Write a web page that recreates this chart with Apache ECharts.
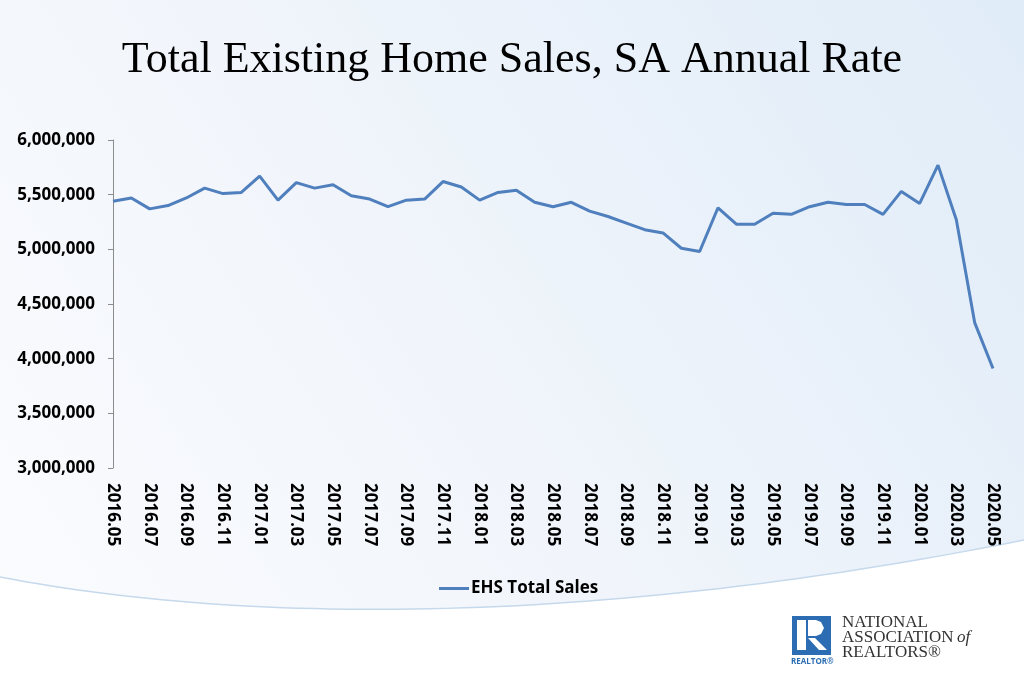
<!DOCTYPE html>
<html>
<head>
<meta charset="utf-8">
<script src="https://cdn.jsdelivr.net/npm/echarts@6/dist/echarts.min.js"></script>
<style>
html,body{margin:0;padding:0;width:1024px;height:692px;overflow:hidden;background:#fff;}
#chart{width:1024px;height:692px;}
</style>
</head>
<body>
<div id="chart"></div>
<script>
var titleText = 'Total Existing Home Sales, SA Annual Rate';
var seriesName = 'EHS Total Sales';
var months = [
  '2016.05','2016.06','2016.07','2016.08','2016.09','2016.10','2016.11','2016.12',
  '2017.01','2017.02','2017.03','2017.04','2017.05','2017.06','2017.07','2017.08','2017.09','2017.10','2017.11','2017.12',
  '2018.01','2018.02','2018.03','2018.04','2018.05','2018.06','2018.07','2018.08','2018.09','2018.10','2018.11','2018.12',
  '2019.01','2019.02','2019.03','2019.04','2019.05','2019.06','2019.07','2019.08','2019.09','2019.10','2019.11','2019.12',
  '2020.01','2020.02','2020.03','2020.04','2020.05'
];
var sales = [
  5440000,5470000,5370000,5400000,5470000,5560000,5510000,5520000,
  5670000,5450000,5610000,5560000,5590000,5490000,5460000,5390000,5450000,5460000,5620000,5570000,
  5450000,5520000,5540000,5430000,5390000,5430000,5350000,5300000,5240000,5180000,5150000,5010000,
  4980000,5380000,5230000,5230000,5330000,5320000,5390000,5430000,5410000,5410000,5320000,5530000,
  5420000,5770000,5270000,4330000,3910000
];
var yMin = 3000000, yMax = 6000000, yStep = 500000;
var logoLines = ['NATIONAL', 'ASSOCIATION', 'REALTORS®'];

// decorative swoosh at the bottom of the slide (cubic bezier)
function swoosh() {
  var p0 = [0, 577], p1 = [250, 625], p2 = [600, 625], p3 = [1024, 540];
  var pts = [];
  for (var i = 0; i <= 60; i++) {
    var t = i / 60, u = 1 - t;
    pts.push([
      u*u*u*p0[0] + 3*u*u*t*p1[0] + 3*u*t*t*p2[0] + t*t*t*p3[0],
      u*u*u*p0[1] + 3*u*u*t*p1[1] + 3*u*t*t*p2[1] + t*t*t*p3[1]
    ]);
  }
  return pts;
}
var curve = swoosh();
var whiteArea = curve.concat([[1024, 692], [0, 692]]);

var chart = echarts.init(document.getElementById('chart'));
var labelFont = '"Open Sans", "Liberation Sans", sans-serif';
var serif = '"Liberation Serif", "DejaVu Serif", serif';
var option = {
  animation: false,
  title: {
    text: titleText,
    left: 'center',
    top: 33,
    textStyle: {fontFamily: serif, fontSize: 44, fontWeight: 'normal', color: '#000'}
  },
  grid: {left: 113, right: 31, top: 140, bottom: 224, containLabel: false},
  legend: {
    data: [{name: seriesName, icon: 'rect'}],
    left: 434, top: 575,
    itemWidth: 30, itemHeight: 3, itemGap: 10,
    textStyle: {fontFamily: labelFont, fontSize: 17, fontWeight: 'bold', color: '#000', padding: [0,0,0,-3]}
  },
  xAxis: {
    type: 'category',
    data: months,
    boundaryGap: false,
    axisLine: {show: false},
    axisTick: {show: false},
    splitLine: {show: false},
    axisLabel: {
      interval: 1, rotate: -90, margin: 15,
      fontFamily: labelFont, fontSize: 17, fontWeight: 'bold', color: '#000'
    }
  },
  yAxis: {
    type: 'value',
    min: yMin, max: yMax, interval: yStep,
    axisLine: {show: true, lineStyle: {color: '#8c8c8c', width: 1}},
    axisTick: {show: true, length: 5, lineStyle: {color: '#8c8c8c'}},
    splitLine: {show: false},
    axisLabel: {
      margin: 18,
      fontFamily: labelFont, fontSize: 17, fontWeight: 'bold', color: '#000',
      formatter: function (v) { return v.toLocaleString('en-US'); }
    }
  },
  series: [{
    name: seriesName,
    type: 'line',
    data: sales,
    showSymbol: false,
    symbol: 'none',
    lineStyle: {color: '#4f7fbd', width: 3},
    itemStyle: {color: '#4f7fbd'}
  }],
  graphic: [
    {type: 'rect', z: -100, silent: true, shape: {x: 0, y: 0, width: 1024, height: 692},
     style: {fill: new echarts.graphic.LinearGradient(1, 0, 0, 1, [
       {offset: 0, color: '#e0ecf8'}, {offset: 0.55, color: '#f1f5fb'}, {offset: 1, color: '#fbfcfe'}])}},
    {type: 'polygon', z: -99, silent: true, shape: {points: whiteArea}, style: {fill: '#ffffff'}},
    {type: 'polyline', z: -98, silent: true, shape: {points: curve}, style: {stroke: '#c6d9ec', lineWidth: 1.5, fill: null}},
    {type: 'rect', z: 10, shape: {x: 792, y: 616, width: 39, height: 39}, style: {fill: '#2b6cb3'}},
    {type: 'rect', z: 11, shape: {x: 797, y: 620, width: 9, height: 30}, style: {fill: '#ffffff'}},
    {type: 'polygon', z: 11, shape: {points: [[808,620],[816,620],[821,622],[824,628],[821,634],[816,636],[808,636]]}, style: {fill: '#ffffff'}},
    {type: 'polygon', z: 11, shape: {points: [[808,638],[815,638],[827,650],[819,650]]}, style: {fill: '#ffffff'}},
    {type: 'text', z: 11, left: 791, top: 658, style: {text: 'REALTOR®', fontSize: 8, fontWeight: 'bold', fill: '#2b6cb3', fontFamily: labelFont}},
    {type: 'text', z: 11, left: 842, top: 614, style: {text: logoLines[0], fontSize: 17, fill: '#333333', fontFamily: serif}},
    {type: 'text', z: 11, left: 842, top: 629, style: {text: logoLines[1], fontSize: 17, fill: '#333333', fontFamily: serif}},
    {type: 'text', z: 11, left: 957, top: 629, style: {text: 'of', fontSize: 17, fontStyle: 'italic', fill: '#333333', fontFamily: serif}},
    {type: 'text', z: 11, left: 842, top: 644, style: {text: logoLines[2], fontSize: 17, fill: '#333333', fontFamily: serif}}
  ]
};
chart.setOption(option);
</script>
</body>
</html>
